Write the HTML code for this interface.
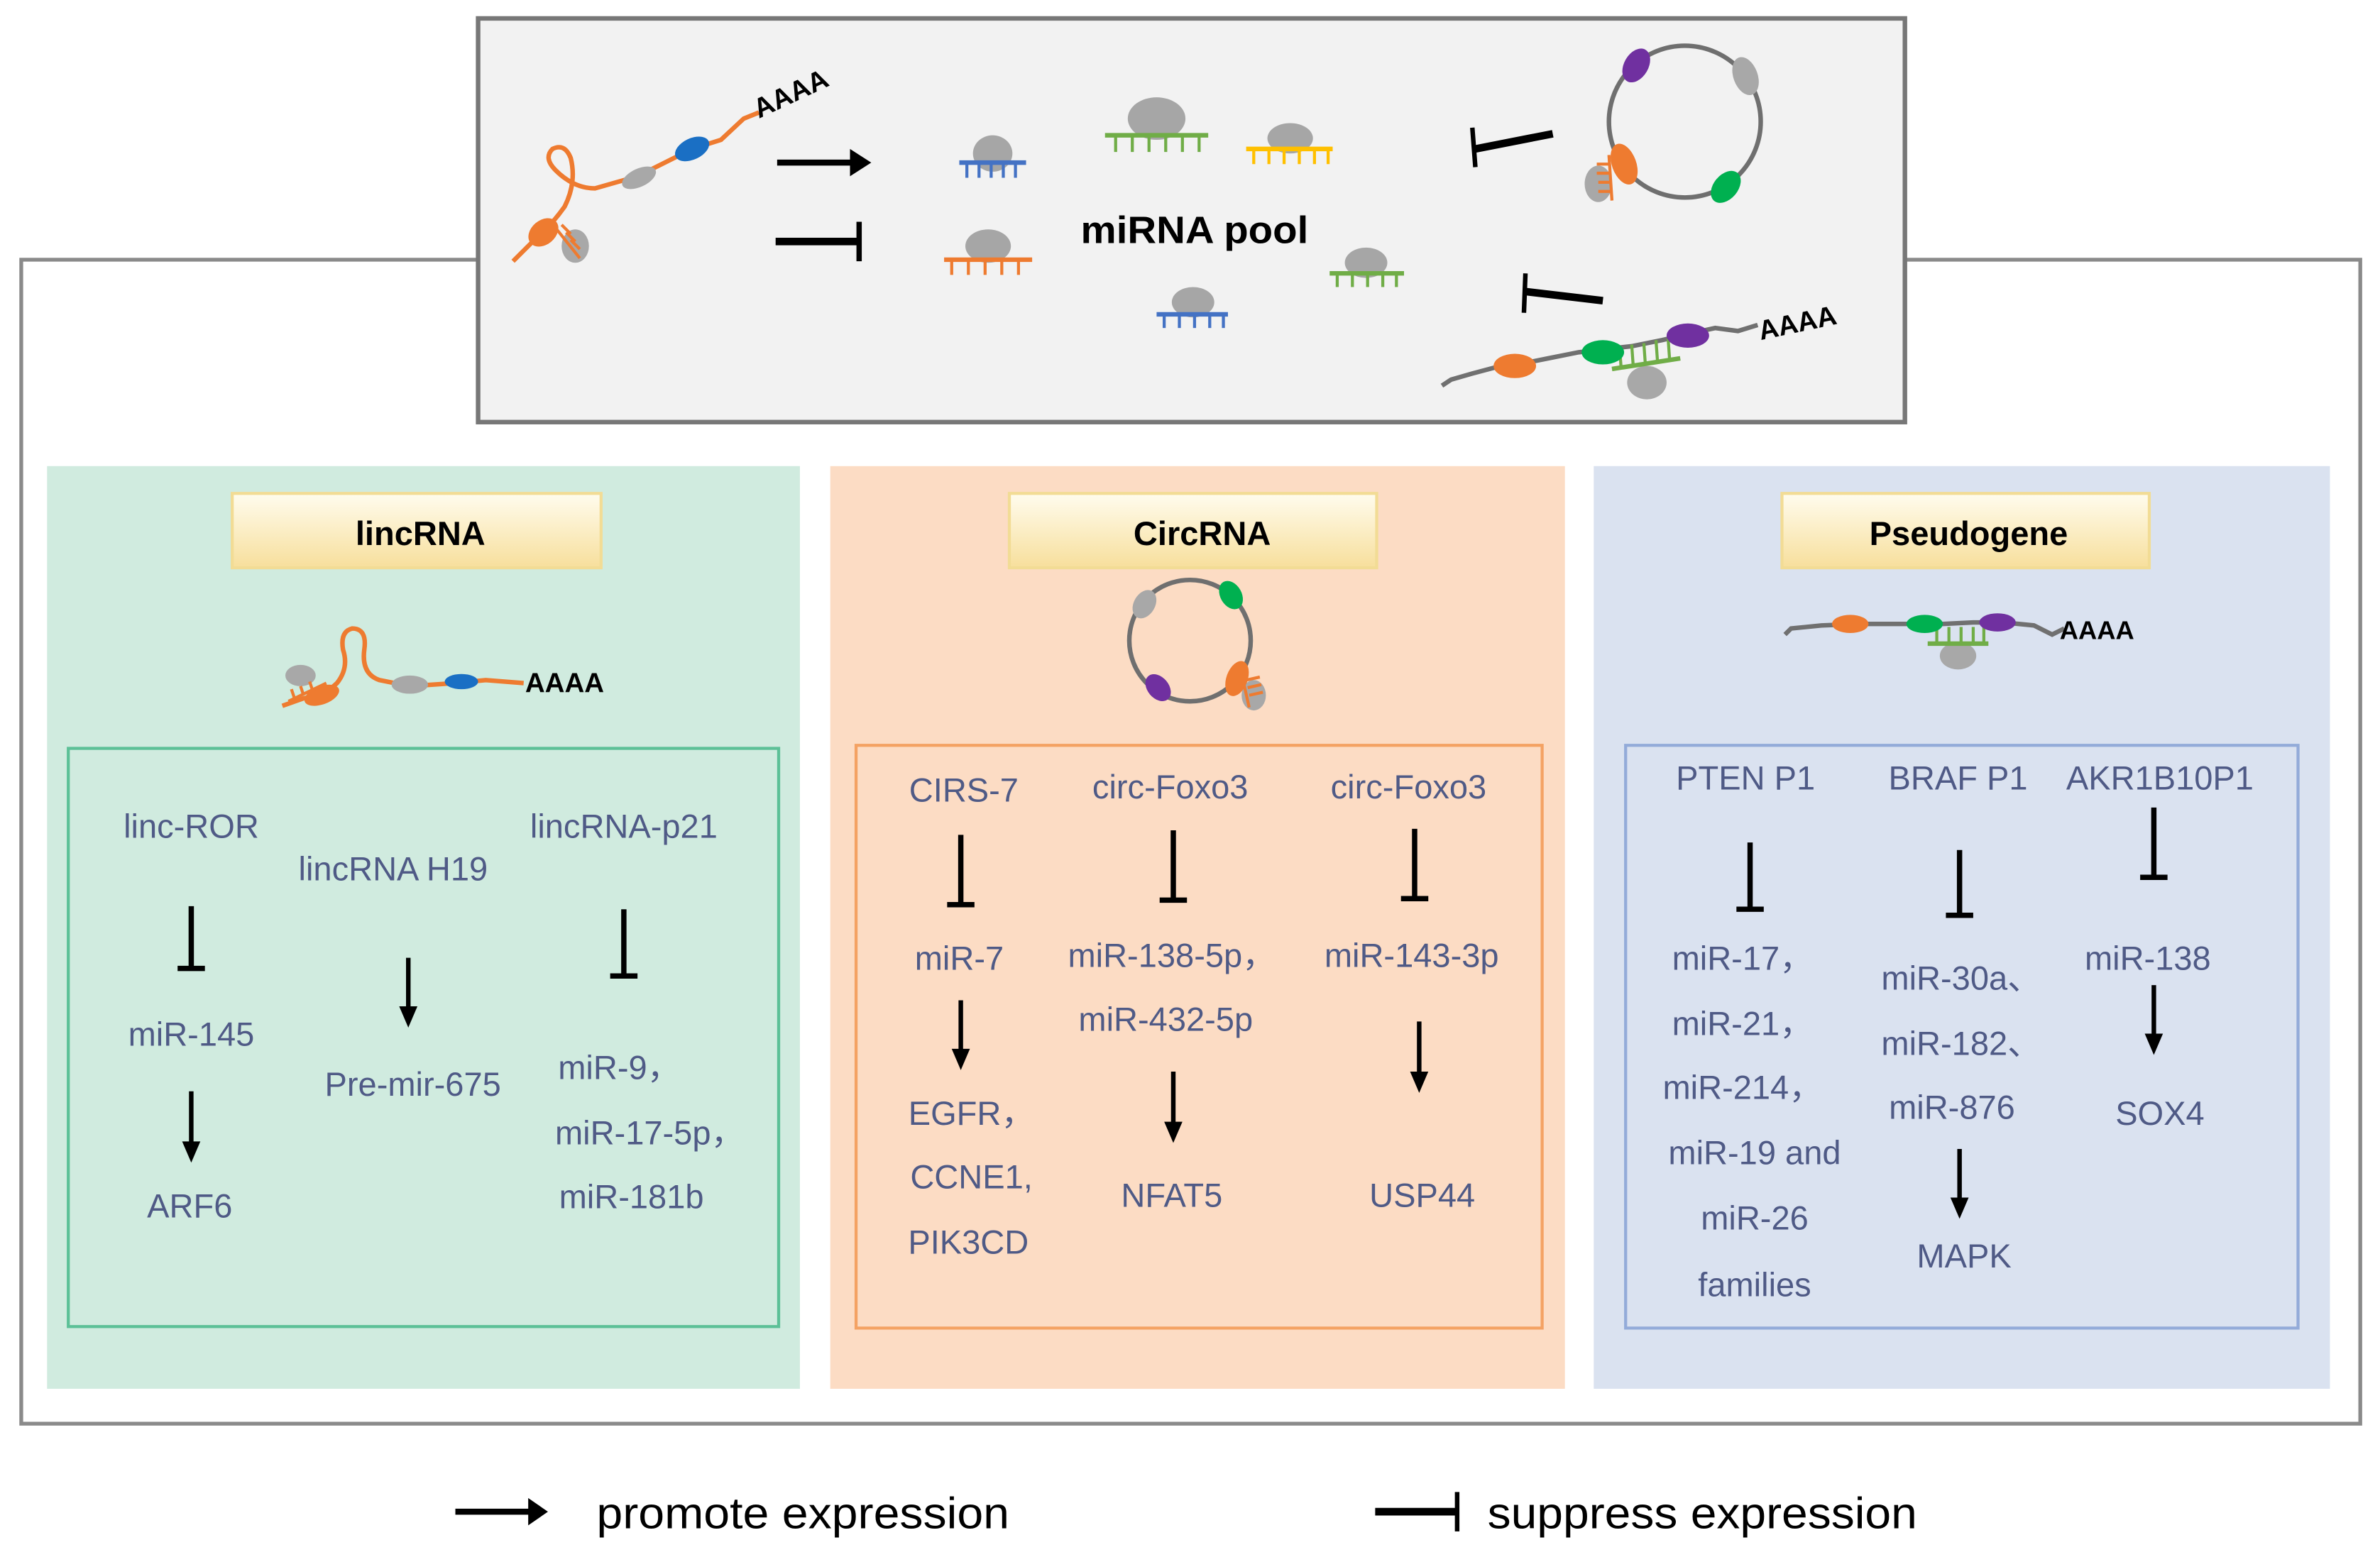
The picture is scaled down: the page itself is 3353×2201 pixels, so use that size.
<!DOCTYPE html>
<html><head><meta charset="utf-8"><style>
html,body{margin:0;padding:0;background:#fff;}
svg{display:block;}
.t{font-family:"Liberation Sans",sans-serif;fill:#4f5a86;font-size:22px;text-anchor:middle;}
.h{font-family:"Liberation Sans",sans-serif;fill:#000;font-weight:bold;font-size:22px;text-anchor:middle;}
</style></head><body>
<svg width="3353" height="2201" viewBox="0 0 1568 1029" xmlns="http://www.w3.org/2000/svg">
<defs>
<linearGradient id="yg" x1="0" y1="0" x2="0" y2="1"><stop offset="0" stop-color="#fffcee"/><stop offset="1" stop-color="#f7df9c"/></linearGradient>
</defs>
<rect width="1568" height="1029" fill="#fff"/>
<rect x="14" y="171" width="1541" height="767" fill="none" stroke="#8a8a8a" stroke-width="2.5"/>
<rect x="315" y="12" width="940" height="266" fill="#f2f2f2" stroke="#777" stroke-width="3"/>
<rect x="31" y="307" width="496" height="608" fill="#d0ebdf"/>
<rect x="547" y="307" width="484" height="608" fill="#fcdcc4"/>
<rect x="1050" y="307" width="485" height="608" fill="#dae2f0"/>
<rect x="153" y="325" width="243" height="49" fill="url(#yg)" stroke="#f2dc95" stroke-width="2"/>
<rect x="665" y="325" width="242" height="49" fill="url(#yg)" stroke="#f2dc95" stroke-width="2"/>
<rect x="1174" y="325" width="242" height="49" fill="url(#yg)" stroke="#f2dc95" stroke-width="2"/>
<text class="h" x="277" y="359">lincRNA</text>
<text class="h" x="792" y="359">CircRNA</text>
<text class="h" x="1297" y="359">Pseudogene</text>
<rect x="45" y="493" width="468" height="381" fill="none" stroke="#5cc097" stroke-width="2"/>
<rect x="564" y="491" width="452" height="384" fill="none" stroke="#f4a263" stroke-width="2"/>
<rect x="1071" y="491" width="443" height="384" fill="none" stroke="#93abd9" stroke-width="2"/>

<g stroke="#ee7b30" stroke-width="3" fill="none">
<path d="M338,172 L350,160 Q362,150 372,136 Q380,120 376,104 Q372,94 364,98 Q358,104 366,112 Q378,124 392,124 L420,116 L456,98 L475,92 L490,78 L500,74"/>
</g>
<ellipse cx="358" cy="153" rx="11" ry="8" fill="#ee7b30" transform="rotate(-40 358 153)"/>
<ellipse cx="379" cy="162" rx="9" ry="11" fill="#a8a8a8"/>
<g stroke="#ee7b30" stroke-width="2"><line x1="366" y1="150" x2="382" y2="170"/><line x1="370" y1="148" x2="376" y2="154"/><line x1="373" y1="153" x2="379" y2="159"/><line x1="376" y1="158" x2="382" y2="164"/></g>
<ellipse cx="421" cy="117" rx="12" ry="6" fill="#a8a8a8" transform="rotate(-25 421 117)"/>
<ellipse cx="456" cy="98" rx="12" ry="7" fill="#1a6fc4" transform="rotate(-25 456 98)"/>
<text x="500" y="78" font-family="Liberation Sans,sans-serif" font-weight="bold" font-size="18" transform="rotate(-25 500 78)">AAAA</text>
<line x1="512" y1="107" x2="562" y2="107" stroke="#000" stroke-width="4"/>
<path d="M560,98 L574,107 L560,116 z" fill="#000"/>
<line x1="511" y1="159" x2="566" y2="159" stroke="#000" stroke-width="5"/>
<line x1="566" y1="146" x2="566" y2="172" stroke="#000" stroke-width="3.5"/>
<g>
<ellipse cx="654" cy="101" rx="13" ry="12" fill="#a6a6a6"/><line x1="632" y1="107" x2="676" y2="107" stroke="#4472c4" stroke-width="3"/>
<g stroke="#4472c4" stroke-width="2"><line x1="637" y1="107" x2="637" y2="117"/><line x1="645" y1="107" x2="645" y2="117"/><line x1="653" y1="107" x2="653" y2="117"/><line x1="661" y1="107" x2="661" y2="117"/><line x1="669" y1="107" x2="669" y2="117"/></g>
<ellipse cx="762" cy="78" rx="19" ry="14" fill="#a6a6a6"/><line x1="728" y1="89" x2="796" y2="89" stroke="#70ad47" stroke-width="3"/>
<g stroke="#70ad47" stroke-width="2"><line x1="735" y1="89" x2="735" y2="100"/><line x1="746" y1="89" x2="746" y2="100"/><line x1="757" y1="89" x2="757" y2="100"/><line x1="768" y1="89" x2="768" y2="100"/><line x1="779" y1="89" x2="779" y2="100"/><line x1="790" y1="89" x2="790" y2="100"/></g>
<ellipse cx="850" cy="91" rx="15" ry="10" fill="#a6a6a6"/><line x1="821" y1="98" x2="878" y2="98" stroke="#ffc000" stroke-width="3"/>
<g stroke="#ffc000" stroke-width="2"><line x1="826" y1="98" x2="826" y2="108"/><line x1="836" y1="98" x2="836" y2="108"/><line x1="846" y1="98" x2="846" y2="108"/><line x1="856" y1="98" x2="856" y2="108"/><line x1="866" y1="98" x2="866" y2="108"/><line x1="875" y1="98" x2="875" y2="108"/></g>
<ellipse cx="651" cy="162" rx="15" ry="11" fill="#a6a6a6"/><line x1="622" y1="171" x2="680" y2="171" stroke="#ee7b30" stroke-width="3"/>
<g stroke="#ee7b30" stroke-width="2"><line x1="627" y1="171" x2="627" y2="181"/><line x1="638" y1="171" x2="638" y2="181"/><line x1="649" y1="171" x2="649" y2="181"/><line x1="660" y1="171" x2="660" y2="181"/><line x1="671" y1="171" x2="671" y2="181"/></g>
<ellipse cx="900" cy="173" rx="14" ry="10" fill="#a6a6a6"/><line x1="876" y1="180" x2="925" y2="180" stroke="#70ad47" stroke-width="3"/>
<g stroke="#70ad47" stroke-width="2"><line x1="881" y1="180" x2="881" y2="189"/><line x1="891" y1="180" x2="891" y2="189"/><line x1="901" y1="180" x2="901" y2="189"/><line x1="911" y1="180" x2="911" y2="189"/><line x1="920" y1="180" x2="920" y2="189"/></g>
<ellipse cx="786" cy="199" rx="14" ry="10" fill="#a6a6a6"/><line x1="762" y1="207" x2="809" y2="207" stroke="#4472c4" stroke-width="3"/>
<g stroke="#4472c4" stroke-width="2"><line x1="767" y1="207" x2="767" y2="216"/><line x1="777" y1="207" x2="777" y2="216"/><line x1="787" y1="207" x2="787" y2="216"/><line x1="797" y1="207" x2="797" y2="216"/><line x1="806" y1="207" x2="806" y2="216"/></g>
</g>
<text x="712" y="160" font-family="Liberation Sans,sans-serif" font-weight="bold" font-size="25" textLength="150" lengthAdjust="spacingAndGlyphs">miRNA pool</text>
<line x1="972" y1="98" x2="1023" y2="88" stroke="#000" stroke-width="5"/>
<line x1="970" y1="84" x2="972" y2="110" stroke="#000" stroke-width="3"/>
<circle cx="1110" cy="80" r="50" fill="none" stroke="#6f6f6f" stroke-width="3"/>
<ellipse cx="1078" cy="43" rx="8" ry="12" fill="#7030a0" transform="rotate(30 1078 43)"/>
<ellipse cx="1150" cy="50" rx="8" ry="13" fill="#a8a8a8" transform="rotate(-20 1150 50)"/>
<ellipse cx="1137" cy="123" rx="8" ry="12" fill="#00b050" transform="rotate(40 1137 123)"/>
<ellipse cx="1053" cy="121" rx="9" ry="12" fill="#a8a8a8"/>
<ellipse cx="1070" cy="108" rx="8" ry="14" fill="#ee7b30" transform="rotate(-20 1070 108)"/>
<g stroke="#ee7b30" stroke-width="2"><line x1="1060" y1="102" x2="1062" y2="132"/><line x1="1060" y1="108" x2="1052" y2="108"/><line x1="1060" y1="114" x2="1052" y2="114"/><line x1="1061" y1="120" x2="1053" y2="120"/><line x1="1061" y1="126" x2="1053" y2="126"/></g>
<line x1="1005" y1="192" x2="1056" y2="198" stroke="#000" stroke-width="5"/>
<line x1="1005" y1="180" x2="1004" y2="206" stroke="#000" stroke-width="3"/>
<path d="M950,254 L956,250 L970,246 L985,242 L1000,240 L1020,236 L1040,232 L1057,230 L1075,228 L1095,224 L1112,220 L1130,216 L1145,218 L1158,214" fill="none" stroke="#707070" stroke-width="3"/>
<ellipse cx="1085" cy="252" rx="13" ry="11" fill="#a8a8a8"/>
<line x1="1062" y1="243" x2="1107" y2="236" stroke="#70ad47" stroke-width="3"/>
<g stroke="#70ad47" stroke-width="2"><line x1="1068" y1="242" x2="1067" y2="228"/><line x1="1076" y1="241" x2="1075" y2="227"/><line x1="1084" y1="240" x2="1083" y2="226"/><line x1="1092" y1="238" x2="1091" y2="224"/><line x1="1100" y1="237" x2="1099" y2="223"/></g>
<ellipse cx="998" cy="241" rx="14" ry="8" fill="#ee7b30"/>
<ellipse cx="1056" cy="232" rx="14" ry="8" fill="#00b050"/>
<ellipse cx="1112" cy="221" rx="14" ry="8" fill="#7030a0"/>
<text x="1160" y="224" font-family="Liberation Sans,sans-serif" font-weight="bold" font-size="18" transform="rotate(-12 1160 224)">AAAA</text>

<path d="M186,465 L200,460 Q214,458 222,450 Q230,440 226,428 Q224,416 232,414 Q242,414 240,428 Q238,444 250,448 L270,452 L300,450 L320,448 L345,450" fill="none" stroke="#ee7b30" stroke-width="3"/>
<ellipse cx="198" cy="445" rx="10" ry="7" fill="#a8a8a8"/>
<ellipse cx="212" cy="458" rx="12" ry="6" fill="#ee7b30" transform="rotate(-20 212 458)"/>
<g stroke="#ee7b30" stroke-width="2"><line x1="190" y1="462" x2="215" y2="450"/><line x1="194" y1="460" x2="192" y2="454"/><line x1="200" y1="458" x2="198" y2="452"/><line x1="206" y1="455" x2="204" y2="449"/></g>
<ellipse cx="270" cy="451" rx="12" ry="6" fill="#a8a8a8"/>
<ellipse cx="304" cy="449" rx="11" ry="5" fill="#1a6fc4"/>
<text x="346" y="456" font-family="Liberation Sans,sans-serif" font-weight="bold" font-size="18">AAAA</text>
<circle cx="784" cy="422" r="40" fill="none" stroke="#6f6f6f" stroke-width="3"/>
<ellipse cx="754" cy="398" rx="7" ry="10" fill="#a8a8a8" transform="rotate(30 754 398)"/>
<ellipse cx="811" cy="392" rx="7" ry="10" fill="#00b050" transform="rotate(-30 811 392)"/>
<ellipse cx="763" cy="453" rx="7" ry="10" fill="#7030a0" transform="rotate(-40 763 453)"/>
<ellipse cx="826" cy="458" rx="8" ry="10" fill="#a8a8a8"/>
<ellipse cx="815" cy="447" rx="7" ry="12" fill="#ee7b30" transform="rotate(20 815 447)"/>
<g stroke="#ee7b30" stroke-width="2"><line x1="818" y1="444" x2="823" y2="466"/><line x1="821" y1="448" x2="830" y2="446"/><line x1="822" y1="453" x2="831" y2="451"/><line x1="823" y1="458" x2="832" y2="456"/></g>
<path d="M1176,418 L1180,414 L1200,412 L1225,411 L1255,411 L1280,411 L1300,410 L1320,410 L1340,412 L1352,418 L1360,414" fill="none" stroke="#707070" stroke-width="3"/>
<ellipse cx="1290" cy="432" rx="12" ry="9" fill="#a8a8a8"/>
<line x1="1270" y1="424" x2="1310" y2="424" stroke="#70ad47" stroke-width="3"/>
<g stroke="#70ad47" stroke-width="2"><line x1="1276" y1="424" x2="1276" y2="413"/><line x1="1284" y1="424" x2="1284" y2="413"/><line x1="1292" y1="424" x2="1292" y2="413"/><line x1="1300" y1="424" x2="1300" y2="413"/><line x1="1307" y1="424" x2="1307" y2="413"/></g>
<ellipse cx="1219" cy="411" rx="12" ry="6" fill="#ee7b30"/>
<ellipse cx="1268" cy="411" rx="12" ry="6" fill="#00b050"/>
<ellipse cx="1316" cy="410" rx="12" ry="6" fill="#7030a0"/>
<text x="1357" y="421" font-family="Liberation Sans,sans-serif" font-weight="bold" font-size="17">AAAA</text>

<text class="t" x="126" y="552">linc-ROR</text>
<text class="t" x="259" y="580">lincRNA H19</text>
<text class="t" x="411" y="552">lincRNA-p21</text>
<text class="t" x="126" y="689">miR-145</text>
<text class="t" x="125" y="802">ARF6</text>
<text class="t" x="272" y="722">Pre-mir-675</text>
<text class="t" x="408" y="711">miR-9，</text>
<text class="t" x="428" y="754">miR-17-5p，</text>
<text class="t" x="416" y="796">miR-181b</text>
<text class="t" x="635" y="528">CIRS-7</text>
<text class="t" x="771" y="526">circ-Foxo3</text>
<text class="t" x="928" y="526">circ-Foxo3</text>
<text class="t" x="632" y="639">miR-7</text>
<text class="t" x="640" y="741">EGFR，</text>
<text class="t" x="640" y="783">CCNE1,</text>
<text class="t" x="638" y="826">PIK3CD</text>
<text class="t" x="772" y="637">miR-138-5p，</text>
<text class="t" x="768" y="679">miR-432-5p</text>
<text class="t" x="772" y="795">NFAT5</text>
<text class="t" x="930" y="637">miR-143-3p</text>
<text class="t" x="937" y="795">USP44</text>
<text class="t" x="1150" y="520">PTEN P1</text>
<text class="t" x="1290" y="520">BRAF P1</text>
<text class="t" x="1423" y="520">AKR1B10P1</text>
<text class="t" x="1148" y="639">miR-17，</text>
<text class="t" x="1148" y="682">miR-21，</text>
<text class="t" x="1148" y="724">miR-214，</text>
<text class="t" x="1156" y="767">miR-19 and</text>
<text class="t" x="1156" y="810">miR-26</text>
<text class="t" x="1156" y="854">families</text>
<text class="t" x="1292" y="652">miR-30a、</text>
<text class="t" x="1292" y="695">miR-182、</text>
<text class="t" x="1286" y="737">miR-876</text>
<text class="t" x="1294" y="835">MAPK</text>
<text class="t" x="1415" y="639">miR-138</text>
<text class="t" x="1423" y="741">SOX4</text>

<g stroke="#000" stroke-width="3.5">
<line x1="126" y1="597" x2="126" y2="638"/><line x1="117" y1="638" x2="135" y2="638"/>
<line x1="411" y1="599" x2="411" y2="643"/><line x1="402" y1="643" x2="420" y2="643"/>
<line x1="633" y1="550" x2="633" y2="596"/><line x1="624" y1="596" x2="642" y2="596"/>
<line x1="773" y1="547" x2="773" y2="593"/><line x1="764" y1="593" x2="782" y2="593"/>
<line x1="932" y1="546" x2="932" y2="592"/><line x1="923" y1="592" x2="941" y2="592"/>
<line x1="1153" y1="555" x2="1153" y2="599"/><line x1="1144" y1="599" x2="1162" y2="599"/>
<line x1="1291" y1="560" x2="1291" y2="603"/><line x1="1282" y1="603" x2="1300" y2="603"/>
<line x1="1419" y1="532" x2="1419" y2="578"/><line x1="1410" y1="578" x2="1428" y2="578"/>
</g>
<g stroke="#000" stroke-width="3">
<line x1="126" y1="719" x2="126" y2="755"/><line x1="269" y1="631" x2="269" y2="666"/>
<line x1="633" y1="659" x2="633" y2="694"/><line x1="773" y1="706" x2="773" y2="742"/>
<line x1="935" y1="673" x2="935" y2="709"/><line x1="1291" y1="757" x2="1291" y2="792"/>
<line x1="1419" y1="649" x2="1419" y2="684"/>
</g>
<g fill="#000">
<path d="M120,752 L132,752 L126,766 z"/><path d="M263,663 L275,663 L269,677 z"/>
<path d="M627,691 L639,691 L633,705 z"/><path d="M767,739 L779,739 L773,753 z"/>
<path d="M929,706 L941,706 L935,720 z"/><path d="M1285,789 L1297,789 L1291,803 z"/>
<path d="M1413,681 L1425,681 L1419,695 z"/>
</g>

<line x1="300" y1="996" x2="350" y2="996" stroke="#000" stroke-width="4"/>
<path d="M348,987 L361,996 L348,1005 z" fill="#000"/>
<text x="393" y="1007" font-family="Liberation Sans,sans-serif" font-size="29" textLength="272" lengthAdjust="spacingAndGlyphs">promote expression</text>
<line x1="906" y1="996" x2="960" y2="996" stroke="#000" stroke-width="5"/>
<line x1="960" y1="983" x2="960" y2="1009" stroke="#000" stroke-width="3"/>
<text x="980" y="1007" font-family="Liberation Sans,sans-serif" font-size="29" textLength="283" lengthAdjust="spacingAndGlyphs">suppress expression</text>
</svg>
</body></html>
